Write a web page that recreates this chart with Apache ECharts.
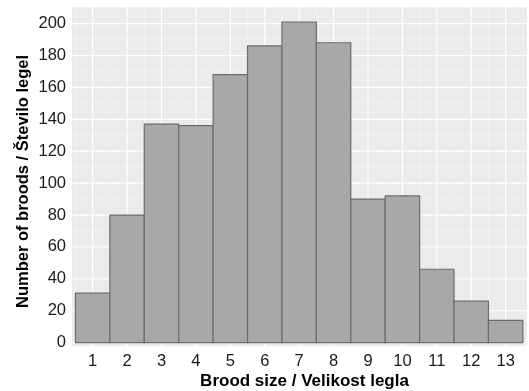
<!DOCTYPE html>
<html>
<head>
<meta charset="utf-8">
<script src="https://cdn.jsdelivr.net/npm/echarts@6/dist/echarts.min.js"></script>
<style>html,body{margin:0;padding:0;background:#fff}#c{width:529px;height:391px}</style>
</head>
<body>
<div id="c"></div>
<script>
const broodSizes = [1,2,3,4,5,6,7,8,9,10,11,12,13];
const broodCounts = [31,80,137,136,168,186,201,188,90,92,46,26,14];
const yTicks = [0,20,40,60,80,100,120,140,160,180,200];
const yMinor = [10,30,50,70,90,110,130,150,170,190,210];
const xTicks = [1,2,3,4,5,6,7,8,9,10,11,12,13];
const xMinor = [0.5,1.5,2.5,3.5,4.5,5.5,6.5,7.5,8.5,9.5,10.5,11.5,12.5,13.5];

const X_MIN = 0.4, X_MAX = 13.62, Y_MIN = -2.1, Y_MAX = 210.4;

const gridData = [];
yMinor.forEach(v => gridData.push(['y', v, 0.6]));
xMinor.forEach(v => gridData.push(['x', v, 0.6]));
yTicks.forEach(v => gridData.push(['y', v, 1.2]));
xTicks.forEach(v => gridData.push(['x', v, 1.2]));

const chart = echarts.init(document.getElementById('c'));
chart.setOption({
  animation: false,
  backgroundColor: '#ffffff',
  grid: { left: 72, right: 2, top: 7, bottom: 45, show: true, backgroundColor: '#EBEBEB', borderWidth: 0, outerBoundsMode: 'none', containLabel: false },
  xAxis: {
    type: 'value', min: X_MIN, max: X_MAX,
    name: 'Brood size / Velikost legla', nameLocation: 'middle', nameGap: 27, nameMoveOverlap: false,
    nameTextStyle: { fontFamily: 'Liberation Sans', fontWeight: 'bold', fontSize: 17, color: '#000', padding: [0, 0, 0, 10] },
    axisLine: { show: false }, axisTick: { show: false }, splitLine: { show: false },
    axisLabel: { customValues: xTicks, fontFamily: 'Liberation Sans', fontSize: 16.5, color: '#1a1a1a', margin: 7 }
  },
  yAxis: {
    type: 'value', min: Y_MIN, max: Y_MAX,
    name: 'Number of broods / Število legel', nameLocation: 'middle', nameGap: 40, nameMoveOverlap: false,
    nameTextStyle: { fontFamily: 'Liberation Sans', fontWeight: 'bold', fontSize: 16.5, color: '#000', padding: [0, 10, 0, 0] },
    axisLine: { show: false }, axisTick: { show: false }, splitLine: { show: false },
    axisLabel: { customValues: yTicks, fontFamily: 'Liberation Sans', fontSize: 16.5, color: '#1a1a1a', margin: 6 }
  },
  series: [
    {
      type: 'custom', silent: true, z: 1,
      data: gridData.map((d, i) => [i]),
      renderItem: function (params, api) {
        const d = gridData[params.dataIndex];
        let p1, p2;
        if (d[0] === 'y') { p1 = api.coord([X_MIN, d[1]]); p2 = api.coord([X_MAX, d[1]]); }
        else { p1 = api.coord([d[1], Y_MIN]); p2 = api.coord([d[1], Y_MAX]); }
        return { type: 'line', shape: { x1: p1[0], y1: p1[1], x2: p2[0], y2: p2[1] },
                 style: { stroke: d[2] > 1 ? '#FFFFFF' : '#F5F5F5', lineWidth: d[2] } };
      },
      encode: { x: 0, y: 0 }
    },
    {
      type: 'custom', z: 2,
      data: broodSizes.map((s, i) => [s, broodCounts[i]]),
      renderItem: function (params, api) {
        const x = api.value(0), y = api.value(1);
        const p0 = api.coord([x - 0.5, 0]);
        const p1 = api.coord([x + 0.5, y]);
        return { type: 'rect',
          shape: { x: p0[0], y: p1[1], width: p1[0] - p0[0], height: p0[1] - p1[1] },
          style: { fill: '#A8A8A8', stroke: '#6B6B6B', lineWidth: 1.2 } };
      },
      encode: { x: 0, y: 1 }
    }
  ]
});
</script>
</body>
</html>
